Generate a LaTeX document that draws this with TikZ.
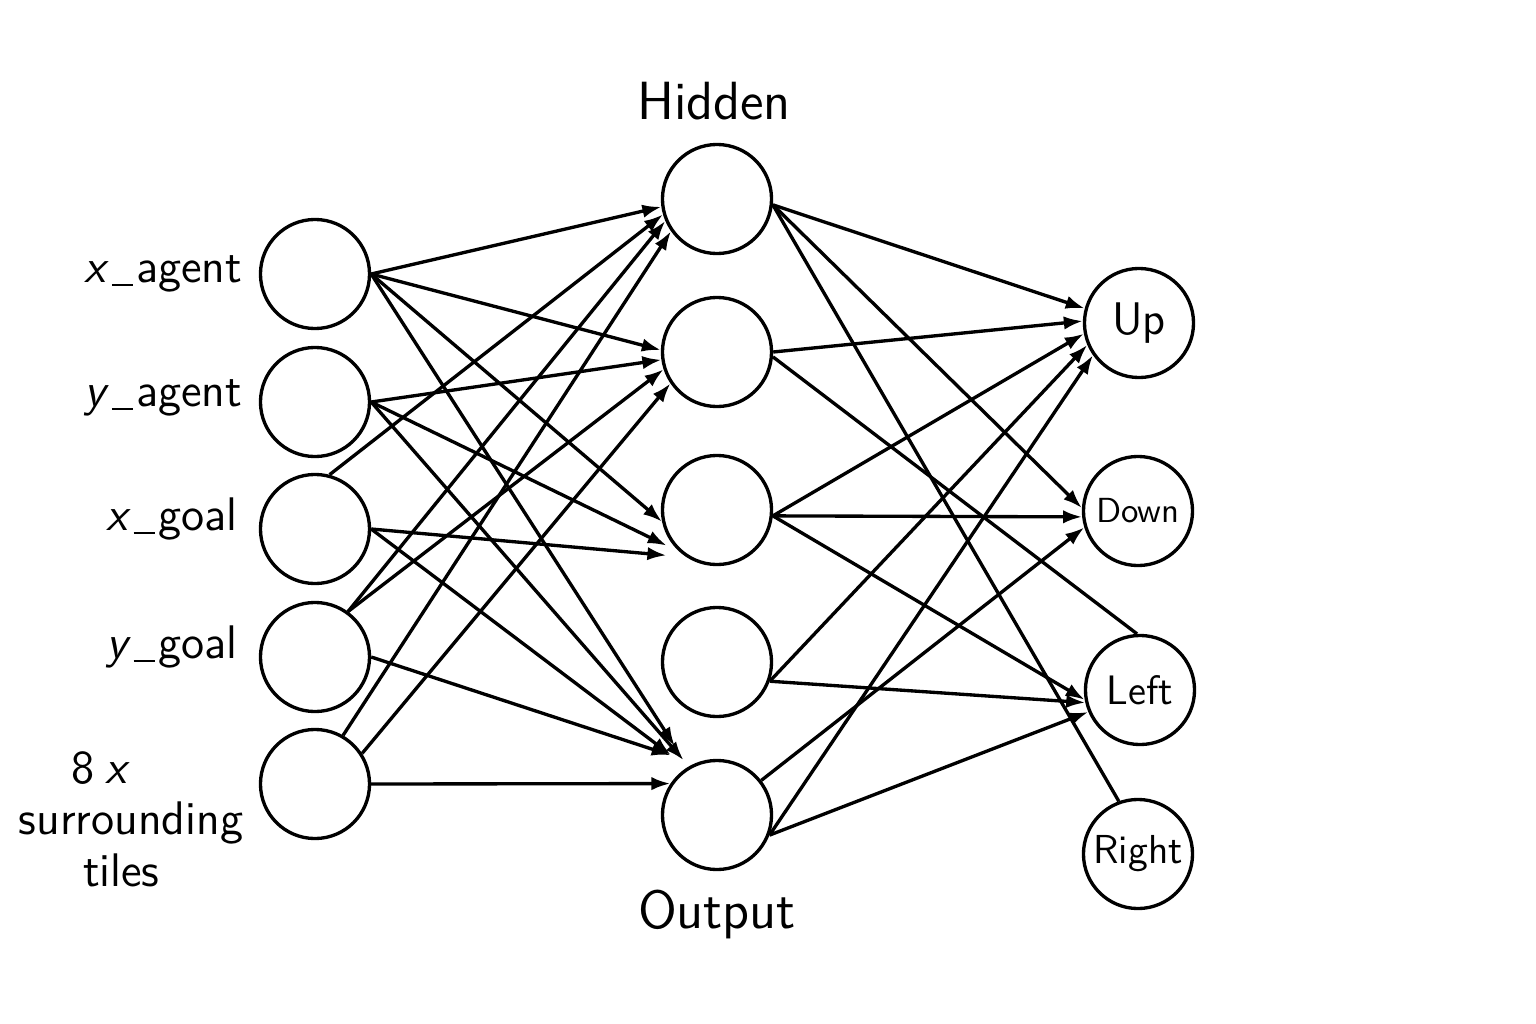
\documentclass[tikz,border=0pt]{standalone}
\usepackage{fontspec}
\usetikzlibrary{arrows.meta}
\newcommand{\thinus}{\kern0.06em\rule[-1.2pt]{0.46em}{0.7pt}\kern0.06em}
\begin{document}
\begin{tikzpicture}[x=0.01cm,y=-0.01cm,
  neuron/.style={circle,draw,line width=0.95pt,minimum size=1.09cm,inner sep=0pt,font=\sffamily},
  conn/.style={line width=0.95pt,-{Latex[length=5.4pt,width=3.8pt]}},
  plainconn/.style={line width=0.95pt},
  lbl/.style={font=\sffamily\fontsize{13.4}{14.6}\selectfont,inner sep=0pt},
  ttl/.style={font=\sffamily\fontsize{15.3}{18}\selectfont,inner sep=0pt}]
\useasboundingbox (0,0) rectangle (1536,1024);

% input layer
\node[neuron] (i1) at (315,274) {};
\node[neuron] (i2) at (315,402) {};
\node[neuron] (i3) at (315,529) {};
\node[neuron] (i4) at (315,657) {};
\node[neuron] (i5) at (315,784) {};

% hidden layer
\node[neuron] (h1) at (717,199) {};
\node[neuron] (h2) at (717,352) {};
\node[neuron] (h3) at (717,510) {};
\node[neuron] (h4) at (717,662) {};
\node[neuron] (h5) at (717,815) {};

% output layer
\node[neuron,font=\sffamily\fontsize{13}{15}\selectfont] (up) at (1139,323) {Up};
\node[neuron,font=\sffamily\fontsize{9.9}{12}\selectfont] (down) at (1138,511) {Down};
\node[neuron,font=\sffamily\fontsize{11.7}{13}\selectfont] (left) at (1140,690) {Left};
\node[neuron,font=\sffamily\fontsize{11.5}{13}\selectfont] (right) at (1138,854) {Right};

% titles
\node[ttl,anchor=base] (thidden) at (714,120) {Hidden};
\node[ttl,anchor=base] (toutput) at (717,928) {Output};

% input labels
\node[lbl,anchor=base east] (lxa) at (243,282) {\textit{x}\thinus agent};
\node[lbl,anchor=base east] (lya) at (243,406) {\textit{y}\thinus agent};
\node[lbl,anchor=base east] (lxg) at (238,530) {\textit{x}\thinus goal};
\node[lbl,anchor=base east] (lyg) at (238,658) {\textit{y}\thinus goal};
\node[lbl,align=center,anchor=north] (ltiles) at (131,751)
  {8\kern3pt\textit{x}\rule{17pt}{0pt}\\surrounding\\tiles\rule{5.5pt}{0pt}};

% input -> hidden
\draw[conn] (i1.east) -- (h1.188);
\draw[conn] (i1.east) -- (h2.178);
\draw[conn] (i1.east) -- (h3.192);
\draw[conn,shorten >=7pt] (i1.east) -- (h5.121);

\draw[conn] (i2.east) -- (h2.188);
\draw[conn,shorten >=4pt] (i2.east) -- (h3.228);
\draw[conn,shorten >=2.3pt] (i2.east) -- (h5.120);

\draw[conn] (i3.75) -- (h1.196);
\draw[conn,shorten >=5.7pt] (i3.east) -- (h3.237);
\draw[conn,shorten >=5.8pt] (i3.east) -- (h5.122);

\draw[conn] (i4.54) -- (h1.203);
\draw[conn] (i4.54) -- (h2.198);
\draw[conn,shorten >=7.3pt] (i4.east) -- (h5.113);

\draw[conn] (i5.60) -- (h1.215);
\draw[conn] (i5.33) -- (h2.214);
\draw[conn] (i5.east) -- (h5.146);

% hidden -> output
\draw[conn] (h1.354) -- (up.165);
\draw[conn] (h1.354) -- (down.177);
\draw[plainconn] (h1.354) -- (right.110);

\draw[conn] (h2.0) -- (up.178);
\draw[plainconn] (h2.355) -- (left.93);

\draw[conn] (h3.354) -- (up.191);
\draw[conn] (h3.354) -- (down.186);
\draw[conn] (h3.354) -- (left.190);

\draw[conn] (h4.340) -- (up.203);
\draw[conn] (h4.340) -- (left.193);

\draw[conn] (h5.38) -- (down.197);
\draw[conn] (h5.339) -- (up.215);
\draw[conn] (h5.339) -- (left.203);
\end{tikzpicture}
\end{document}
